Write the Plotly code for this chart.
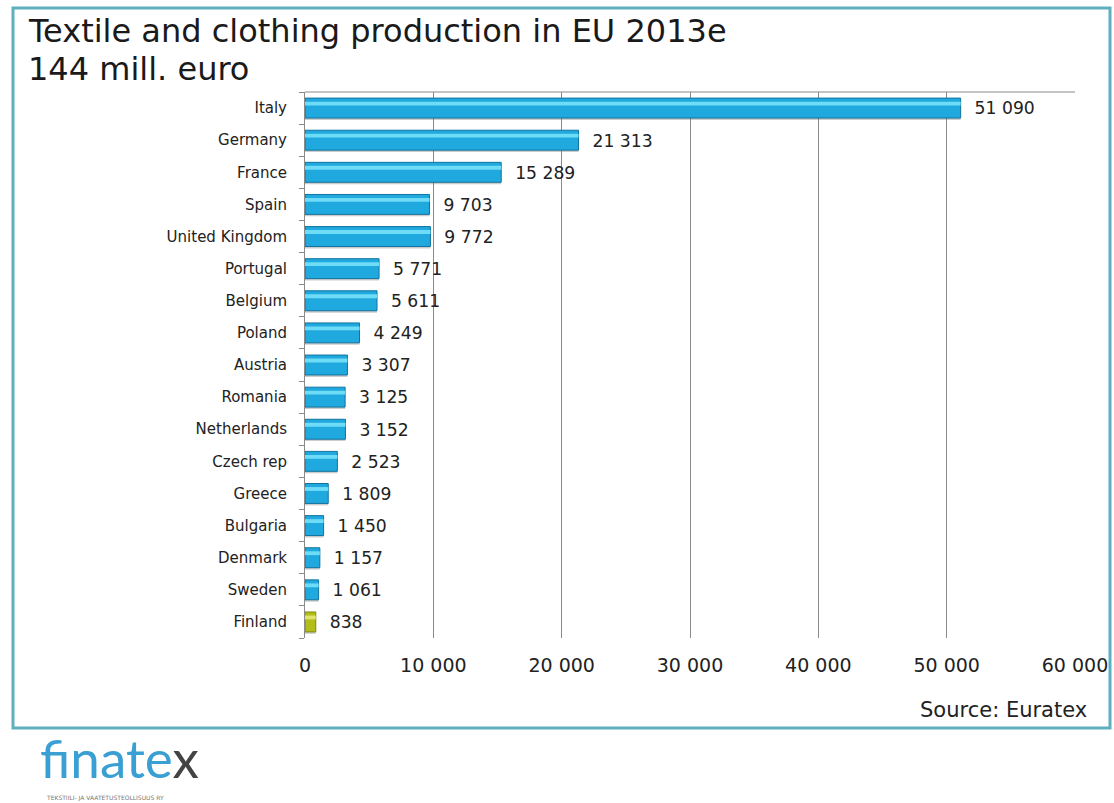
import plotly.graph_objects as go

countries = ["Italy", "Germany", "France", "Spain", "United Kingdom", "Portugal", "Belgium",
             "Poland", "Austria", "Romania", "Netherlands", "Czech rep", "Greece", "Bulgaria",
             "Denmark", "Sweden", "Finland"]
values = [51090, 21313, 15289, 9703, 9772, 5771, 5611, 4249, 3307, 3125, 3152, 2523, 1809,
          1450, 1157, 1061, 838]
x_ticks = [0, 10000, 20000, 30000, 40000, 50000, 60000]

# bottom-to-top order for the category axis
cats = countries[::-1]
vals = values[::-1]
main_colors = ["#b3bd17" if c == "Finland" else "#1fa9de" for c in cats]
line_colors = ["#7f8a0c" if c == "Finland" else "#12739f" for c in cats]
hi_colors = ["#dfe46c" if c == "Finland" else "#6fdcf7" for c in cats]

FONT = "DejaVu Sans"
L, R, T, B = 305, 1114 - 1075, 92, 803 - 638
W, H = 1114, 803
pw, ph = W - L - R, H - T - B

def px(x):
    return (x - L) / pw

def py(y):
    return (H - B - y) / ph

fig = go.Figure()
# shadow
fig.add_trace(go.Bar(
    y=cats, x=vals, orientation="h", width=0.62, offset=-0.37,
    marker=dict(color="rgba(110,110,110,0.35)", line=dict(width=0)),
    hoverinfo="skip", showlegend=False))
# main bar
fig.add_trace(go.Bar(
    y=cats, x=vals, orientation="h", width=0.62, offset=-0.31,
    marker=dict(color=main_colors, line=dict(color=line_colors, width=1)),
    texttemplate="  %{x:,}", textposition="outside", cliponaxis=False,
    textfont=dict(family=FONT, size=19, color="#222222"),
    showlegend=False))
# highlight strip
fig.add_trace(go.Bar(
    y=cats, x=vals, orientation="h", width=0.12, offset=0.08,
    marker=dict(color=hi_colors, line=dict(width=0)),
    hoverinfo="skip", showlegend=False))

fig.update_layout(
    width=W, height=H,
    margin=dict(l=L, r=R, t=T, b=B, autoexpand=False),
    paper_bgcolor="white", plot_bgcolor="white",
    barmode="overlay",
    separators=". ",
    font=dict(family=FONT, color="#222222"),
    xaxis=dict(range=[0, 60000], tickvals=x_ticks, tickformat=",",
               showgrid=True, gridcolor="#8a8a8a", gridwidth=1,
               zeroline=False, showline=False, ticks="", automargin=False,
               ticklabelstandoff=14,
               tickfont=dict(family=FONT, size=19, color="#222222")),
    yaxis=dict(categoryorder="array", categoryarray=cats, automargin=False,
               showline=True, linecolor="#8a8a8a", linewidth=1,
               ticks="outside", tickson="boundaries", ticklen=5, tickcolor="#8a8a8a",
               ticklabelstandoff=14,
               tickfont=dict(family=FONT, size=15, color="#222222")),
    shapes=[
        dict(type="line", xref="paper", yref="paper", x0=0, x1=1, y0=1, y1=1,
             line=dict(color="#8a8a8a", width=1)),
        dict(type="rect", xref="paper", yref="paper",
             x0=px(13), x1=px(1110), y0=py(728), y1=py(8),
             line=dict(color="#5fb0bf", width=3)),
    ],
    annotations=[
        dict(text="Textile and clothing production in EU 2013e", xref="paper", yref="paper",
             x=px(26), y=py(31), xanchor="left", yanchor="middle", showarrow=False,
             font=dict(family=FONT, size=32, color="#1a1a1a")),
        dict(text="144 mill. euro", xref="paper", yref="paper",
             x=px(26), y=py(69), xanchor="left", yanchor="middle", showarrow=False,
             font=dict(family=FONT, size=32, color="#1a1a1a")),
        dict(text="Source: Euratex", xref="paper", yref="paper",
             x=px(1089), y=py(710), xanchor="right", yanchor="middle", showarrow=False,
             font=dict(family=FONT, size=21, color="#222222")),
        dict(text="<span style='color:#3a9fd2'>finate</span><span style='color:#444444'>x</span>",
             xref="paper", yref="paper",
             x=px(38), y=py(757), xanchor="left", yanchor="middle", showarrow=False,
             font=dict(family="Lato", size=53)),
        dict(text="TEKSTIILI- JA VAATETUSTEOLLISUUS RY", xref="paper", yref="paper",
             x=px(44), y=py(798), xanchor="left", yanchor="middle", showarrow=False,
             font=dict(family=FONT, size=6, color="#777777")),
    ],
)

fig.write_html("out.html")
